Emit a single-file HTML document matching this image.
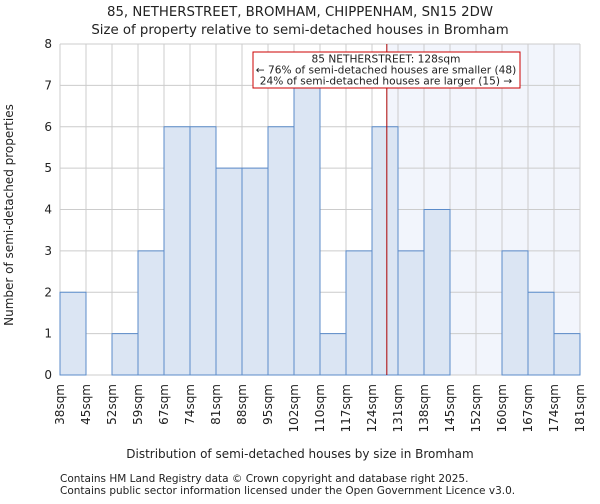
<!DOCTYPE html>
<html><head><meta charset="utf-8"><style>
body{margin:0;background:#fff;font-family:"DejaVu Sans","Liberation Sans",sans-serif;}
svg text{font-family:"DejaVu Sans","Liberation Sans",sans-serif;fill:#222;}
</style></head><body>
<svg id="chart" width="600" height="500">
<text x="300" y="16" font-size="13.3" text-anchor="middle">85, NETHERSTREET, BROMHAM, CHIPPENHAM, SN15 2DW</text>
<text x="300" y="34" font-size="13.3" text-anchor="middle">Size of property relative to semi-detached houses in Bromham</text>
<g id="plot"></g>
<text x="300" y="458" font-size="12" text-anchor="middle">Distribution of semi-detached houses by size in Bromham</text>
<text transform="translate(13,215) rotate(-90)" font-size="12" text-anchor="middle">Number of semi-detached properties</text>
<text x="60" y="482" font-size="10.5" fill="#444">Contains HM Land Registry data © Crown copyright and database right 2025.</text>
<text x="60" y="494" font-size="10.5" fill="#444">Contains public sector information licensed under the Open Government Licence v3.0.</text>
</svg>
<script>
const binLabels=["38sqm","45sqm","52sqm","59sqm","67sqm","74sqm","81sqm","88sqm","95sqm","102sqm","110sqm","117sqm","124sqm","131sqm","138sqm","145sqm","152sqm","160sqm","167sqm","174sqm","181sqm"];
const counts=[2,0,1,3,6,6,5,5,6,7,1,3,6,3,4,0,0,3,2,1];
const yTicks=[0,1,2,3,4,5,6,7,8];
const markerBin=12.57;
const NS="http://www.w3.org/2000/svg";
const L=60,R=580,T=44,B=375,yMax=8;
const nb=counts.length;
const xs=i=>L+(R-L)*i/nb;
const ys=v=>B-(B-T)*v/yMax;
const g=document.getElementById('plot');
function mk(tag,attrs){const e=document.createElementNS(NS,tag);for(const k in attrs)e.setAttribute(k,attrs[k]);g.appendChild(e);return e;}
const mx=xs(markerBin);
let e=mk('rect',{x:mx,y:T,width:R-mx,height:B-T,fill:'#f2f5fc'});


for(let i=0;i<=nb;i++){e=mk('line',{x1:xs(i),x2:xs(i),y1:T,y2:B,stroke:'#cccccc','stroke-width':1});

}
yTicks.forEach(t=>{e=mk('line',{x1:L,x2:R,y1:ys(t),y2:ys(t),stroke:'#cccccc','stroke-width':1});


e=mk('text',{x:L-8,y:ys(t)+4,'font-size':12,'text-anchor':'end'});e.textContent=t;

});
counts.forEach((c,i)=>{if(c<=0)return;e=mk('rect',{x:xs(i),y:ys(c),width:xs(i+1)-xs(i),height:B-ys(c),fill:'#dbe5f3',stroke:'#5b8bc9','stroke-width':1});

});
binLabels.forEach((l,i)=>{e=mk('text',{transform:`translate(${xs(i)+4},384) rotate(-90)`,'font-size':12,'text-anchor':'end'});e.textContent=l;

});
e=mk('line',{x1:mx,x2:mx,y1:T,y2:B,stroke:'#aa0000','stroke-width':1});


e=mk('rect',{x:253,y:52,width:267,height:36,fill:'#fff',stroke:'#cc0000','stroke-width':1});


const ann=["85 NETHERSTREET: 128sqm","← 76% of semi-detached houses are smaller (48)","24% of semi-detached houses are larger (15) →"];
ann.forEach((s,i)=>{e=mk('text',{x:386,y:62.5+i*11,'font-size':10.6,'text-anchor':'middle'});e.textContent=s;

});
</script>
</body></html>
